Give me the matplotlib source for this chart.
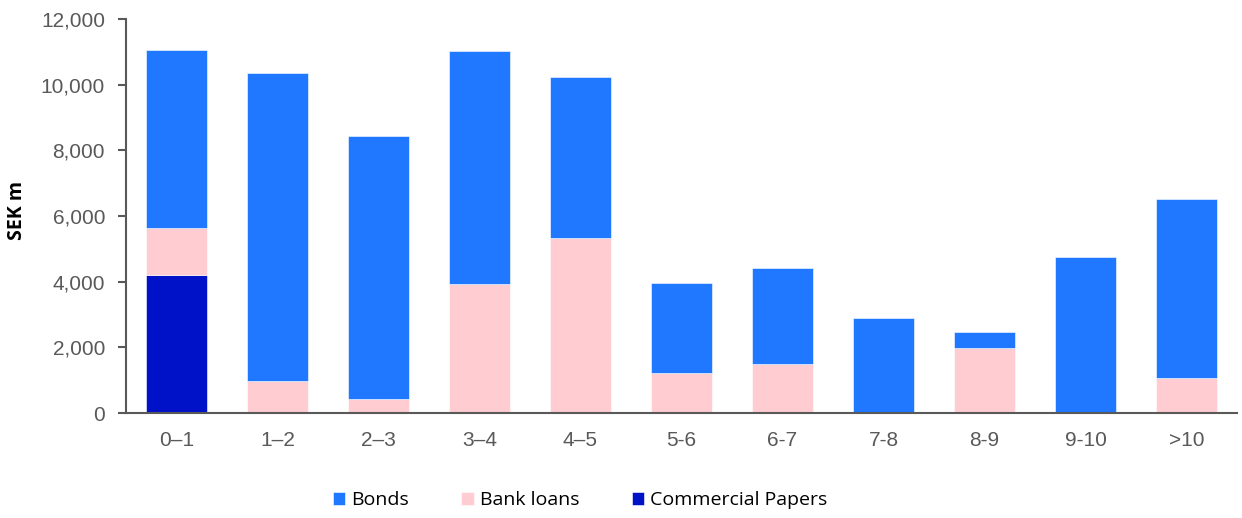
import matplotlib
matplotlib.use("Agg")
import matplotlib.pyplot as plt
from matplotlib.ticker import FuncFormatter
import numpy as np

categories = ["0–1", "1–2", "2–3", "3–4", "4–5", "5-6", "6-7", "7-8", "8-9", "9-10", ">10"]
commercial_papers = [4200, 0, 0, 0, 0, 0, 0, 0, 0, 0, 0]
bank_loans = [1440, 975, 430, 3930, 5330, 1220, 1490, 0, 1980, 0, 1070]
bonds = [5420, 9385, 8010, 7100, 4905, 2740, 2930, 2895, 490, 4750, 5450]

c_bonds = "#1F78FF"
c_bank = "#FFCCD2"
c_cp = "#0012C8"
grey = "#595959"

fig = plt.figure(figsize=(12.42, 5.18), dpi=100)
ax = fig.add_axes([0.1014, 0.2027, 0.8946, 0.7606])

x = np.arange(len(categories))
w = 0.6
cp = np.array(commercial_papers)
bl = np.array(bank_loans)
bo = np.array(bonds)
ax.bar(x, cp, w, color=c_cp, label="Commercial Papers", edgecolor="white", linewidth=0.4)
ax.bar(x, bl, w, bottom=cp, color=c_bank, label="Bank loans", edgecolor="white", linewidth=0.4)
ax.bar(x, bo, w, bottom=cp + bl, color=c_bonds, label="Bonds", edgecolor="white", linewidth=0.4)

ax.set_xlim(-0.5, len(categories) - 0.5)
ax.set_ylim(0, 12000)
ax.set_yticks(np.arange(0, 12001, 2000))
ax.yaxis.set_major_formatter(FuncFormatter(lambda v, p: f"{int(v):,}"))
ax.set_xticks(x)
ax.set_xticklabels(categories)

for s in ["top", "right"]:
    ax.spines[s].set_visible(False)
for s in ["left", "bottom"]:
    ax.spines[s].set_color(grey)
    ax.spines[s].set_linewidth(1.5)

ax.tick_params(axis="y", length=6, width=1.5, color=grey, labelcolor=grey,
               labelsize=15, pad=9)
ax.tick_params(axis="x", length=0, labelcolor=grey, labelsize=15, pad=13)
for lab in ax.get_xticklabels() + ax.get_yticklabels():
    lab.set_fontfamily("Liberation Sans")

ax.set_ylabel("SEK m", fontsize=14, fontweight="bold", family="Open Sans")
ax.yaxis.set_label_coords(-0.089, 0.513)

handles, labels = ax.get_legend_handles_labels()
order = [2, 1, 0]
fig.legend([handles[i] for i in order], [labels[i] for i in order],
           loc="center", bbox_to_anchor=(0.467, 0.035), ncol=3, frameon=False,
           prop={"family": "Open Sans", "size": 14},
           handlelength=0.65, handleheight=0.65, handletextpad=0.3, columnspacing=2.7,
           borderaxespad=0)

fig.savefig("out.png", dpi=100)
